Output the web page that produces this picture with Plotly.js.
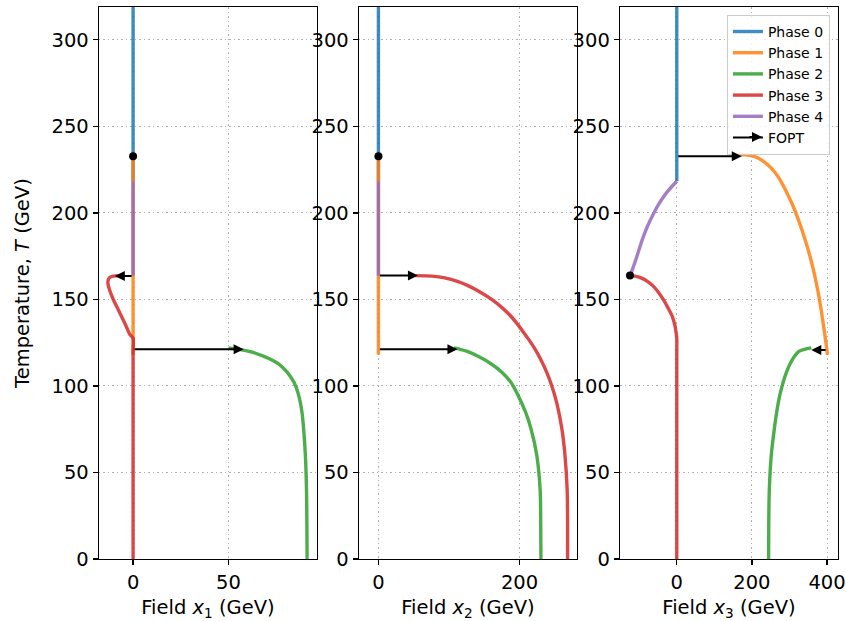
<!DOCTYPE html>
<html>
<head>
<meta charset="utf-8">
<script src="https://cdn.plot.ly/plotly-3.0.1.min.js"></script>
<style>html,body{margin:0;padding:0;background:#fff}#chart{width:846px;height:621px}</style>
</head>
<body>
<div id="chart"></div>
<script>
// ---------- data ----------
const phaseNames = ["Phase 0", "Phase 1", "Phase 2", "Phase 3", "Phase 4"];
const phaseColors = ["#1f77b4", "#ff7f0e", "#2ca02c", "#d62728", "#9467bd"];

const phase0_T  = [218.3, 320];
const phase0_x1 = [0, 0];
const phase0_x2 = [0, 0];
const phase0_x3 = [0, 0];

const phase1_T  = [118, 125, 135, 145, 155, 165, 175, 185, 195, 205, 213, 220, 226, 230, 232.5, 233.6, 233.5];
const phase1_x1 = [0, 0, 0, 0, 0, 0, 0, 0, 0, 0, 0, 0, 0, 0, 0, 0, 0];
const phase1_x2 = [0, 0, 0, 0, 0, 0, 0, 0, 0, 0, 0, 0, 0, 0, 0, 0, 0];
const phase1_x3 = [401, 397, 390.5, 383.5, 375.5, 366, 354.5, 341, 325.5, 307.5, 290, 272.5, 251, 230, 208, 185, 160];

const phase2_T  = [0, 20, 40, 60, 75, 85, 95, 102, 108, 113, 117, 120, 121.2, 122];
const phase2_x1 = [91.3, 91.2, 91.0, 90.4, 89.5, 88.6, 86.8, 84.5, 80.8, 76, 69, 61, 55, 50];
const phase2_x2 = [230.4, 230.1, 229.3, 224.5, 216.5, 208.5, 197.5, 188, 175, 159, 142, 126, 116, 107];
const phase2_x3 = [244.4, 244.8, 246.3, 251.5, 259.5, 266, 274.5, 283, 292, 302, 313, 325, 340, 358];

const phase3_T  = [0, 20, 40, 60, 75, 90, 101, 108, 115, 121, 127.5, 130, 135, 140, 145, 150, 155, 158, 160.5, 162.5, 163.5, 163.8];
const phase3_x1 = [0, 0, 0, 0, 0, 0, 0, 0, 0, 0, 0, -1.8, -3.8, -6, -8.2, -10.4, -12.2, -13, -13.2, -12.5, -10.5, -6];
const phase3_x2 = [268.2, 268.2, 267.6, 264.5, 260.2, 253, 245, 238.5, 230.5, 222.5, 212, 207.5, 198.5, 188.5, 176, 160.5, 141, 127, 112, 94, 76, 52];
const phase3_x3 = [0, 0, 0, 0, 0, 0, 0, 0, 0, 0, 0, -1.3, -5, -11.5, -23, -36, -52, -64, -78, -95, -112, -124.5];

const phase4_T  = [163.8, 168, 175, 185, 192.3, 200, 205.8, 212, 218.3];
const phase4_x1 = [0, 0, 0, 0, 0, 0, 0, 0, 0];
const phase4_x2 = [0, 0, 0, 0, 0, 0, 0, 0, 0];
const phase4_x3 = [-124.5, -117, -106, -91, -78, -61, -46, -26, 0];

// critical points (black dots)
const dot_x1 = [0],      dot_T1 = [232.7];
const dot_x2 = [0],      dot_T2 = [232.7];
const dot_x3 = [-124.5], dot_T3 = [163.8];

// first-order phase transitions (arrows): from -> to at temperature T
const fopt1_from = [0, 0],   fopt1_to = [58, -9.6],  fopt1_T = [121.2, 163.6];
const fopt2_from = [0, 0],   fopt2_to = [112, 56],   fopt2_T = [121.2, 163.8];
const fopt3_from = [0, 400], fopt3_to = [173, 358],  fopt3_T = [232.7, 120.8];

// ---------- build ----------
const phaseT  = [phase0_T, phase1_T, phase2_T, phase3_T, phase4_T];
const phaseX  = [
  [phase0_x1, phase0_x2, phase0_x3],
  [phase1_x1, phase1_x2, phase1_x3],
  [phase2_x1, phase2_x2, phase2_x3],
  [phase3_x1, phase3_x2, phase3_x3],
  [phase4_x1, phase4_x2, phase4_x3]
];
const axisIds = [["x", "y"], ["x2", "y2"], ["x3", "y3"]];

const traces = [];
for (let p = 0; p < 5; p++) {
  for (let a = 0; a < 3; a++) {
    traces.push({
      type: "scatter", mode: "lines",
      x: phaseX[p][a], y: phaseT[p],
      xaxis: axisIds[a][0], yaxis: axisIds[a][1],
      line: {color: phaseColors[p], width: 3.4, shape: "spline", smoothing: 0.8},
      opacity: 0.85,
      name: phaseNames[p], legendgroup: phaseNames[p],
      showlegend: a === 2, hoverinfo: "skip"
    });
  }
}
// FOPT legend entry
traces.push({type: "scatter", mode: "lines", x: [null], y: [null], xaxis: "x3", yaxis: "y3",
  line: {color: "black", width: 2}, name: "FOPT", showlegend: true});

const dots = [[dot_x1, dot_T1], [dot_x2, dot_T2], [dot_x3, dot_T3]];
dots.forEach((d, a) => traces.push({
  type: "scatter", mode: "markers", x: d[0], y: d[1],
  xaxis: axisIds[a][0], yaxis: axisIds[a][1],
  marker: {color: "black", size: 8}, showlegend: false, hoverinfo: "skip"
}));

const annotations = [];
const fopts = [[fopt1_from, fopt1_to, fopt1_T], [fopt2_from, fopt2_to, fopt2_T], [fopt3_from, fopt3_to, fopt3_T]];
fopts.forEach((f, a) => {
  for (let i = 0; i < f[2].length; i++) {
    annotations.push({
      x: f[1][i], y: f[2][i], ax: f[0][i], ay: f[2][i],
      xref: axisIds[a][0], yref: axisIds[a][1], axref: axisIds[a][0], ayref: axisIds[a][1],
      text: "", showarrow: true, arrowhead: 2, arrowsize: 1, arrowwidth: 2,
      arrowcolor: "black", standoff: 0, startstandoff: 0
    });
  }
});

const font = {family: "DejaVu Sans", size: 19.5, color: "black"};
const gridDash = "1.5px,3px";
function xaxis(domain, range, dtick, label) {
  return {
    domain: domain, range: range, dtick: dtick, tick0: 0,
    showline: true, mirror: true, linecolor: "black", linewidth: 1.3,
    ticks: "outside", ticklen: 5, tickwidth: 1.2, tickcolor: "black",
    showgrid: true, gridcolor: "#b0b0b0", griddash: gridDash, gridwidth: 1,
    zeroline: false, tickfont: font,
    title: {text: label, font: font, standoff: 8}
  };
}
function yaxis(anchor, label) {
  return {
    anchor: anchor, domain: [0.0998, 0.9887], range: [0, 319], tickvals: [0, 50, 100, 150, 200, 250, 300],
    showline: true, mirror: true, linecolor: "black", linewidth: 1.3,
    ticks: "outside", ticklen: 5, tickwidth: 1.2, tickcolor: "black",
    showgrid: true, gridcolor: "#b0b0b0", griddash: gridDash, gridwidth: 1,
    zeroline: false, tickfont: font,
    title: {text: label, font: font, standoff: 16}
  };
}

const layout = {
  width: 846, height: 621,
  margin: {l: 0, r: 0, t: 0, b: 0},
  paper_bgcolor: "white", plot_bgcolor: "white",
  font: font,
  xaxis:  Object.assign(xaxis([0.117, 0.3747], [-17.9, 96.5], 50, "Field <i>x</i><sub>1</sub> (GeV)"), {anchor: "y"}),
  xaxis2: Object.assign(xaxis([0.4243, 0.682], [-27.6, 281.5], 200, "Field <i>x</i><sub>2</sub> (GeV)"), {anchor: "y2"}),
  xaxis3: Object.assign(xaxis([0.7329, 0.9905], [-151, 429], 200, "Field <i>x</i><sub>3</sub> (GeV)"), {anchor: "y3"}),
  yaxis:  yaxis("x", "Temperature, <i>T</i> (GeV)"),
  yaxis2: yaxis("x2", ""),
  yaxis3: yaxis("x3", ""),
  showlegend: true,
  legend: {
    x: 0.981, y: 0.976, xanchor: "right", yanchor: "top",
    bgcolor: "rgba(255,255,255,0.85)", bordercolor: "#cccccc", borderwidth: 1,
    font: {family: "DejaVu Sans", size: 14, color: "black"},
    tracegroupgap: 0
  },
  annotations: annotations.concat([{
    // arrowhead on the FOPT legend sample
    xref: "paper", yref: "paper", x: 762 / 846, y: 1 - 137 / 621,
    ax: -14, ay: 0, text: "", showarrow: true, arrowhead: 2, arrowsize: 1, arrowwidth: 2,
    arrowcolor: "black", standoff: 0
  }])
};

Plotly.newPlot("chart", traces, layout, {staticPlot: true, displayModeBar: false});
</script>
</body>
</html>
